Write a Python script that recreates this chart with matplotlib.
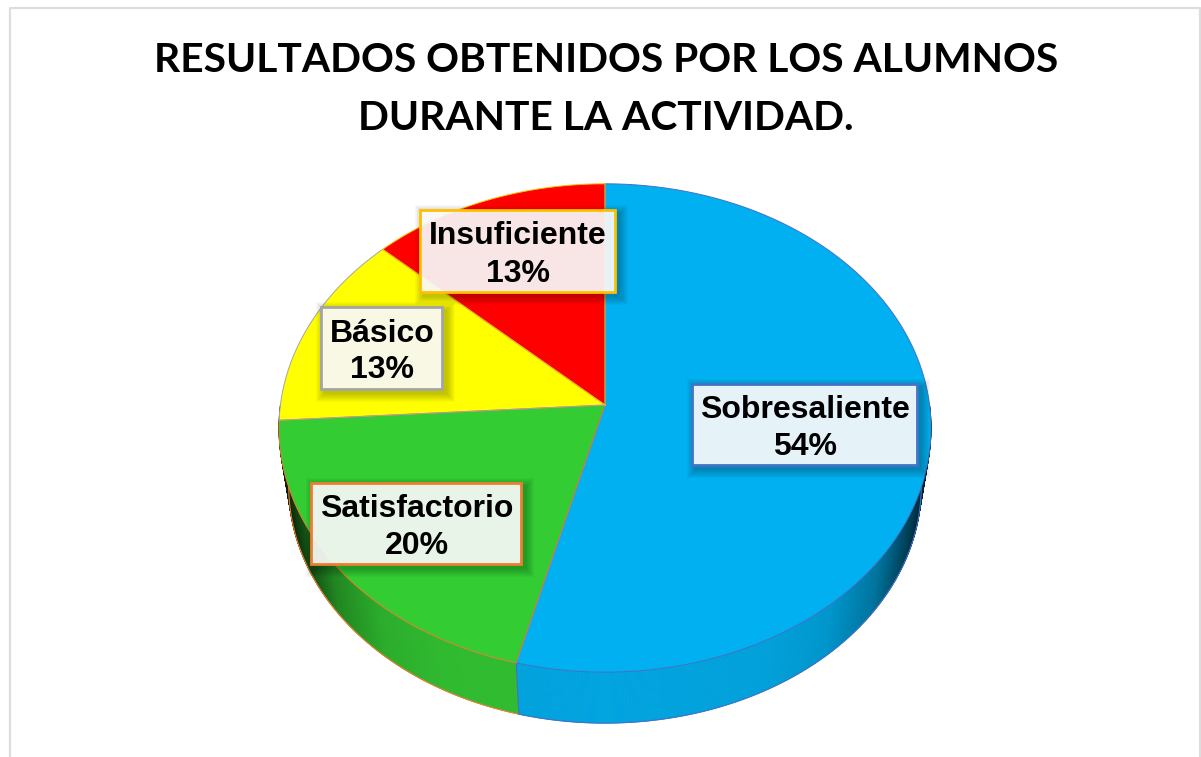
import numpy as np
import matplotlib
matplotlib.use("Agg")
import matplotlib.pyplot as plt
from matplotlib.patches import Rectangle

categorias = ["Sobresaliente", "Satisfactorio", "Básico", "Insuficiente"]
valores = [54, 20, 13, 13]
colores = ["#00B0F0", "#33CC33", "#FFFF00", "#FF0000"]
bordes = ["#4472C4", "#ED7D31", "#A5A5A5", "#FFC000"]
titulo = ["RESULTADOS OBTENIDOS POR LOS ALUMNOS", "DURANTE LA ACTIVIDAD."]

# cajas de etiquetas: x0, y0, x1, y1 en pixeles
cajas = [(692, 384, 917, 465), (311, 483, 521, 564), (321, 307, 442, 389), (420, 210, 615, 292)]

cx, cy = 605, 405
R, H, k = 324.6, 242, -0.094
s_base, d_base = 0.97, 59


def proyecta(ang):
    # angulo en grados, horario desde arriba, con perspectiva
    a = np.radians(ang)
    x, y = np.sin(a), -np.cos(a)
    w = 1 + k * y
    return R * x / w, H * y / w


def sombra(xn):
    return np.interp(np.abs(xn), [0, .5, .69, .84, .945, 1], [.93, .91, .85, .66, .35, .15])


fig = plt.figure(figsize=(12.01, 7.57), dpi=100)
ax = fig.add_axes([0, 0, 1, 1])
ax.set_xlim(0, 1201)
ax.set_ylim(757, 0)
ax.axis("off")

# marco del grafico
ax.plot([9.5, 9.5, 1200, 1200], [757, 7.5, 7.5, 757], color="#DDDDDD", lw=1.6, zorder=1)

for i, linea in enumerate(titulo):
    ax.text(606, 61 + 58 * i, linea, ha="center", va="center", fontsize=29.3,
            family="Lato", weight="bold", color="black", zorder=5)

fin = np.cumsum(valores) / np.sum(valores) * 360
ini = np.r_[0, fin[:-1]]

# lado del pastel
for a0, a1, col, bor in zip(ini, fin, colores, bordes):
    a0v, a1v = max(a0, 90), min(a1, 270)
    if a1v <= a0v:
        continue
    base = np.array(matplotlib.colors.to_rgb(col))
    angs = np.linspace(a0v, a1v, int(a1v - a0v) * 4 + 2)
    for u, v in zip(angs[:-1], angs[1:]):
        xu, yu = proyecta(u)
        xv, yv = proyecta(v)
        f = sombra((xu + xv) / 2 / 326)
        c = base * f
        ax.fill([cx + xu, cx + xv, cx + xv * s_base, cx + xu * s_base],
                [cy + yu, cy + yv, cy + yv * s_base + d_base, cy + yu * s_base + d_base],
                color=c, lw=0.6, zorder=2)
    xb, yb = proyecta(angs)
    ax.plot(cx + xb * s_base, cy + yb * s_base + d_base, color=bor, lw=0.8, zorder=2.5)
    xs, ys = proyecta(np.array([a0v]))
    if a0v > 90:
        ax.plot([cx + xs[0], cx + xs[0] * s_base], [cy + ys[0], cy + ys[0] * s_base + d_base],
                color="#4472C4", lw=0.8, zorder=2.6)

# cara superior
for a0, a1, col, bor in zip(ini, fin, colores, bordes):
    angs = np.linspace(a0, a1, int(a1 - a0) * 2 + 2)
    xa, ya = proyecta(angs)
    px = np.r_[cx, cx + xa, cx]
    py = np.r_[cy, cy + ya, cy]
    ax.fill(px, py, color=col, lw=0, zorder=3)
    ax.plot(px, py, color=bor, lw=0.7, zorder=3.1)

# etiquetas con sombra difusa
for nom, val, caja, bor in zip(categorias, valores, cajas, bordes):
    x0, y0, x1, y1 = caja
    for g in range(9, 0, -1):
        ax.add_patch(Rectangle((x0 + 4 - g, y0 + 4 - g), x1 - x0 + 2 * g, y1 - y0 + 2 * g,
                               fc="black", ec="none", alpha=0.028, zorder=3.5))
    ax.add_patch(Rectangle((x0, y0), x1 - x0, y1 - y0, fc="white", alpha=0.9, ec="none", zorder=4))
    ax.add_patch(Rectangle((x0, y0), x1 - x0, y1 - y0, fc="none", ec=bor, lw=2, zorder=4.1))
    ym = (y0 + y1) / 2
    ax.text((x0 + x1) / 2 + 0.5, ym - 14.5, nom, ha="center", va="center", fontsize=23,
            family="Liberation Sans", weight="bold", color="black", zorder=5)
    ax.text((x0 + x1) / 2 + 0.5, ym + 22.5, "%d%%" % val, ha="center", va="center", fontsize=23,
            family="Liberation Sans", weight="bold", color="black", zorder=5)

fig.savefig("out.png", dpi=100)
